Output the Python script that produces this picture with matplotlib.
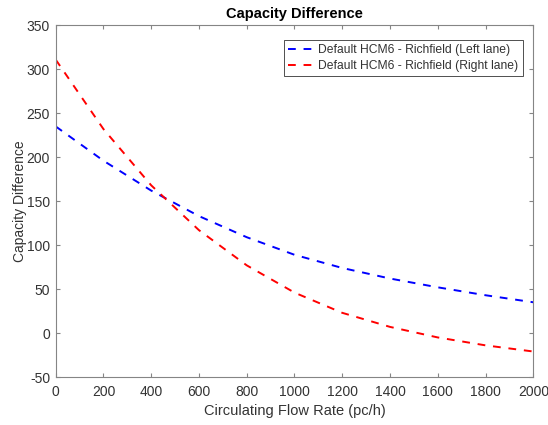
import matplotlib
matplotlib.use("Agg")
import matplotlib.pyplot as plt

# circulating flow (pc/h) and capacity differences
flow = [0, 200, 400, 600, 800, 1000, 1200, 1400, 1600, 1800, 2000]
left_lane = [235, 196, 162, 133, 109, 89, 74, 62, 52, 43, 35]
right_lane = [311, 232, 168, 117, 77, 46, 23, 7, -5, -14, -21]

labels = ["Default HCM6 - Richfield (Left lane)",
          "Default HCM6 - Richfield (Right lane)"]

plt.rcParams['font.family'] = ['Liberation Sans', 'DejaVu Sans']
plt.rcParams['axes.unicode_minus'] = False
gray = '#333333'
axcol = '#858585'

fig = plt.figure(figsize=(5.48, 4.25), dpi=100)
ax = fig.add_axes([0.1016, 0.1129, 0.8716, 0.8276])

ax.plot(flow, left_lane, color=(0, 0, 1), linestyle=(0, (4, 4)), linewidth=1.4, label=labels[0])
ax.plot(flow, right_lane, color=(1, 0, 0), linestyle=(0, (4, 4)), linewidth=1.4, label=labels[1])

ax.set_xlim(0, 2000)
ax.set_ylim(-50, 350)
ax.set_xticks(range(0, 2001, 200))
ax.set_yticks(range(-50, 351, 50))

ax.tick_params(direction='in', top=True, right=True, length=3, width=0.8,
               colors=axcol, labelsize=10, labelcolor=gray)
ax.tick_params(axis='x', pad=6)
ax.tick_params(axis='y', pad=4)
for s in ax.spines.values():
    s.set_color(axcol)
    s.set_linewidth(0.8)

ax.set_xlabel("Circulating Flow Rate (pc/h)", fontsize=10.5, color=gray, labelpad=3)
ax.set_ylabel("Capacity Difference", fontsize=10, color=gray, labelpad=0)
ax.set_title("Capacity Difference", fontsize=10.5, fontweight='bold', color='black', pad=5)

leg = ax.legend(loc='upper right', bbox_to_anchor=(0.978, 0.958), borderaxespad=0,
                fontsize=8.7, frameon=True, fancybox=False, edgecolor=gray, framealpha=1,
                handlelength=2.2, handletextpad=0.3, borderpad=0.35, labelspacing=0.3)
leg.get_frame().set_linewidth(0.6)
for t in leg.get_texts():
    t.set_color(gray)

fig.savefig("out.png", dpi=100)
